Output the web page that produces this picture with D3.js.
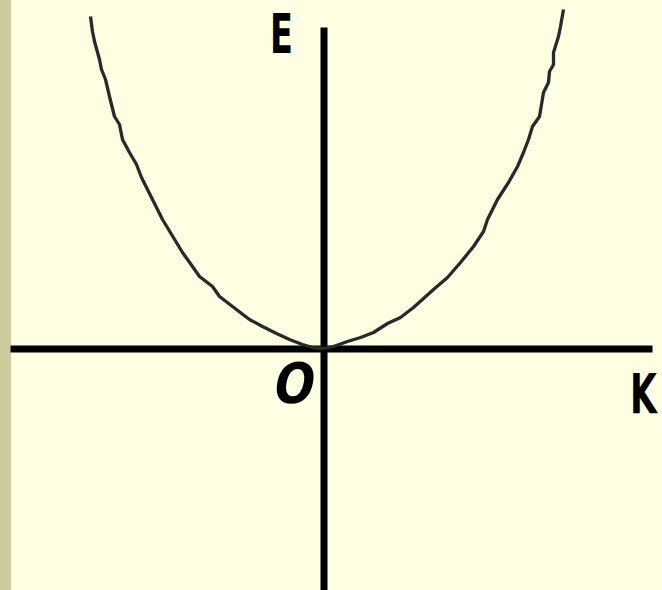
<!DOCTYPE html>
<html>
<head>
<meta charset="utf-8">
<script src="https://cdn.jsdelivr.net/npm/d3@7"></script>
<style>
  html, body { margin: 0; padding: 0; background: #fefee3; }
  svg { display: block; }
</style>
</head>
<body>
<div id="chart"></div>
<script>
// dispersion curve E(K) (left branch then right branch)
const kValues = [
  -2.33, -2.31, -2.29, -2.24, -2.22, -2.18, -2.14, -2.09, -2.04, -2.01,
  -1.94, -1.87, -1.82, -1.72, -1.61, -1.41, -1.31, -1.24, -1.11, -1.04,
  -0.91, -0.74, -0.61, -0.47, -0.34, -0.21, -0.11, 0.00,
  0.10, 0.24, 0.37, 0.50, 0.64, 0.77, 0.90, 1.10, 1.24, 1.37,
  1.50, 1.60, 1.64, 1.74, 1.85, 1.94, 2.00, 2.05, 2.09, 2.16,
  2.20, 2.25, 2.26, 2.30, 2.30, 2.35, 2.37, 2.40
];
const eValues = [
  3.32, 3.17, 3.07, 2.89, 2.79, 2.69, 2.52, 2.32, 2.24, 2.09,
  1.96, 1.84, 1.71, 1.51, 1.29, 0.96, 0.82, 0.72, 0.62, 0.52,
  0.42, 0.29, 0.22, 0.15, 0.09, 0.04, 0.01, 0.00,
  0.02, 0.07, 0.11, 0.16, 0.25, 0.31, 0.41, 0.59, 0.71, 0.86,
  1.02, 1.17, 1.29, 1.49, 1.66, 1.82, 1.96, 2.09, 2.22, 2.32,
  2.56, 2.66, 2.77, 2.84, 2.96, 3.12, 3.22, 3.39
];
const kDomain = [-3.135, 3.285];
const eDomain = [-2.415, 3.215];
const axisLabels = ["K", "E", "O"];

const chartSettings = {
  width: 662,
  height: 590,
  stripWidth: 11,
  axisLeft: 10,
  axisRight: 652,
  axisTop: 27,
  axisBottom: 590,
  axisWidth: 7,
  curveWidth: 3.3,
};

const data = kValues.map((k, i) => ({ k, e: eValues[i] }));

const svg = d3.select("#chart").append("svg")
  .attr("width", chartSettings.width)
  .attr("height", chartSettings.height);

svg.append("rect")
  .attr("width", chartSettings.width)
  .attr("height", chartSettings.height)
  .attr("fill", "#fefee3");

svg.append("rect")
  .attr("width", chartSettings.stripWidth)
  .attr("height", chartSettings.height)
  .attr("fill", "#cbcb9b");

const xScale = d3.scaleLinear()
  .domain(kDomain)
  .range([chartSettings.axisLeft, chartSettings.axisRight]);

const yScale = d3.scaleLinear()
  .domain(eDomain)
  .range([chartSettings.axisBottom, chartSettings.axisTop]);

// axes through the origin, no ticks
const xAxis = svg.append("g")
  .attr("transform", `translate(0,${yScale(0)})`)
  .call(d3.axisBottom(xScale).ticks(0).tickSizeOuter(0));

const yAxis = svg.append("g")
  .attr("transform", `translate(${xScale(0)},0)`)
  .call(d3.axisLeft(yScale).ticks(0).tickSizeOuter(0));

[xAxis, yAxis].forEach(axis => axis.select(".domain")
  .attr("stroke", "#000")
  .attr("stroke-width", chartSettings.axisWidth));

const line = d3.line()
  .x(d => xScale(d.k))
  .y(d => yScale(d.e))
  .curve(d3.curveLinear);

svg.append("path")
  .datum(data)
  .attr("fill", "none")
  .attr("stroke", "#252a2a")
  .attr("stroke-width", chartSettings.curveWidth)
  .attr("stroke-linejoin", "round")
  .attr("d", line);

// axis letters
const labelFont = "'Comic Sans MS', 'DejaVu Sans', sans-serif";
const labelPos = [
  { text: axisLabels[0], x: xScale(3.2), y: yScale(-0.645), sx: 0.62, skew: 0 },
  { text: axisLabels[1], x: xScale(-0.42), y: yScale(2.955), sx: 0.6, skew: 0 },
  { text: axisLabels[2], x: xScale(-0.32), y: yScale(-0.545), sx: 0.85, skew: -12 },
];

svg.selectAll(".label")
  .data(labelPos)
  .enter()
  .append("text")
  .attr("class", "label")
  .attr("transform", d => `translate(${d.x},${d.y}) scale(${d.sx},1) skewX(${d.skew})`)
  .attr("text-anchor", "middle")
  .attr("font-family", labelFont)
  .attr("font-weight", "bold")
  .attr("font-size", 56)
  .attr("fill", "#000")
  .text(d => d.text);
</script>
</body>
</html>
